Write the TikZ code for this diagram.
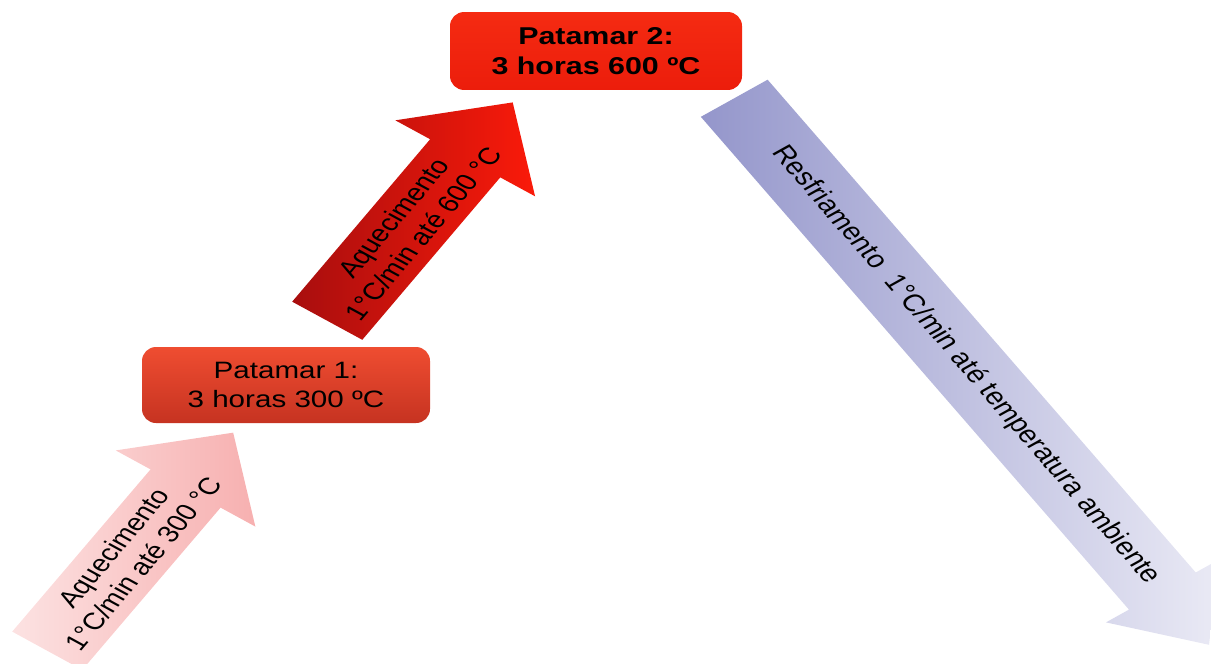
\documentclass[tikz,border=0pt]{standalone}
\usepackage{fontspec}
\setmainfont{Liberation Sans}
\usetikzlibrary{shapes.arrows,positioning}
\definecolor{PinkTail}{HTML}{FCE2E2}
\definecolor{PinkTip}{HTML}{F7B0B0}
\definecolor{RedTail}{HTML}{A80E0E}
\definecolor{RedTip}{HTML}{FA1A0A}
\definecolor{BlueTail}{HTML}{9496CB}
\definecolor{BlueTip}{HTML}{EAEAF5}
\definecolor{OrangeTop}{HTML}{EF4D31}
\definecolor{OrangeBot}{HTML}{C63321}
\definecolor{FlameTop}{HTML}{F52B12}
\definecolor{FlameBot}{HTML}{EC1D0B}
\tikzset{
  % Plateau box
  PB/.style={rectangle,rounded corners=7pt,
             minimum width=144pt,minimum height=47.5pt,
             align=center,text=black,inner sep=0pt,
             font=\fontsize{14.8}{18}\selectfont},
  % Big block arrow
  BA/.style={single arrow,single arrow head indent=0pt,
             anchor=tail,align=center,text=black,inner xsep=2pt},
  % Ramp variants
  aUp/.style={BA,single arrow head extend=21pt,minimum width=84.5pt,
              minimum height=165pt,inner ysep=6.5pt,
              font=\fontsize{14.8}{18}\selectfont},
  aDn/.style={BA,single arrow head extend=14pt,minimum width=68pt,
              single arrow tip angle=80,minimum height=416pt,
              inner ysep=13pt,font=\fontsize{15.1}{18}\selectfont}
}

\begin{document}
\begin{tikzpicture}[x=0.5pt,y=-0.625pt,yscale=0.8,transform shape]
  \useasboundingbox (0,0) rectangle (1211,664);
  \clip (0,0) rectangle (1211,664);
  % plateaus
  \node[PB,top color=OrangeTop,bottom color=OrangeBot] (pat1) at (286,385)
    {Patamar 1:\\3 horas 300 ºC};
  \node[PB,minimum width=146pt,minimum height=48.7pt,font=\fontsize{15.2}{18.5}\selectfont\bfseries,
        top color=FlameTop,bottom color=FlameBot] (pat2) at (596,51)
    {Patamar 2:\\3 horas 600 ºC};
  % ramps
  \node[aUp,rotate=55.7,left color=PinkTail,right color=PinkTip] (aq1) at (47,651)
    {Aquecimento\\1°C/min até 300 °C};
  \node[aUp,rotate=55.8,left color=RedTail,right color=RedTip] (aq2) at (327,321)
    {Aquecimento\\1°C/min até 600 °C};
  \node[aDn,rotate=-55.2,left color=BlueTail,right color=BlueTip] (resf) at (734,98)
    {\hspace*{14pt}Resfriamento\ \ 1°C/min até temperatura ambiente};
\end{tikzpicture}
\end{document}
